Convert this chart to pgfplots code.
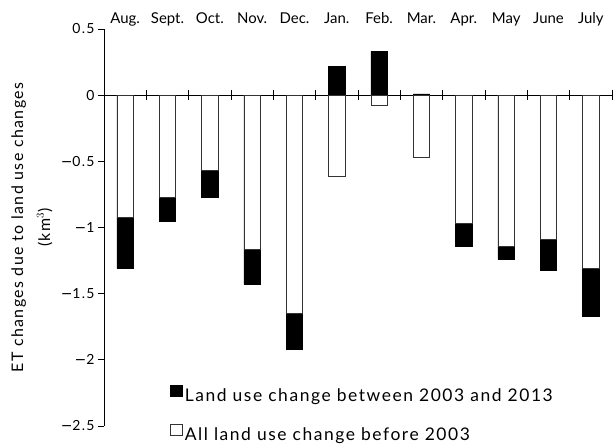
\documentclass[border=0pt]{standalone}
\usepackage{pgfplots}
\pgfplotsset{compat=1.18}
\usepackage{fontspec}
\setmainfont{Lato}
\newfontfamily\spaced{Lato}[LetterSpace=9]
\newfontfamily\dejavu{DejaVu Sans}
\newcommand{\mn}{{\dejavu −}}
\begin{document}
\begin{tikzpicture}
\begin{axis}[
  scale only axis, width=508bp, height=397bp,
  xmin=0.5, xmax=12.5, ymin=-2.5, ymax=0.5,
  axis x line=middle, axis y line=left,
  axis line style={-, black, line width=0.8pt},
  hide obscured x ticks=false, hide obscured y ticks=false,
  xtick={1,...,12},
  xticklabels={Aug., Sept., Oct., Nov., Dec., Jan., Feb., Mar., Apr., May, June, July},
  x tick label style={anchor=base, yshift=75bp, font=\fontsize{15}{18}\selectfont},
  major x tick style={draw=none},
  minor xtick={0.5,1.5,...,12.5},
  minor x tick style={black, line width=0.8pt},
  xtick align=center, minor tick length=10bp,
  ytick={-2.5,-2,-1.5,-1,-0.5,0,0.5},
  yticklabels={\mn2.5,\mn2,\mn1.5,\mn1,\mn0.5,0,0.5},
  ytick align=outside, major tick length=6bp,
  y tick style={black, line width=0.8pt},
  y tick label style={font=\spaced\fontsize{14}{16}\selectfont},
  ylabel={ET changes due to land use changes\\(km$^{3}$)},
  ylabel style={align=center, font=\spaced\fontsize{16}{27}\selectfont,
    at={(axis description cs:-0.142,0.5)}, anchor=center},
  legend style={draw=none, fill=none, at={(0.130,0.105)}, anchor=north west,
    font=\spaced\fontsize{17.5}{20}\selectfont, row sep=19bp, inner sep=0pt},
  legend cell align=left,
]
\addplot[ybar, bar width=0.39, bar shift=0, fill=black, draw=black, line width=0.6pt,
  legend image code/.code={\draw[fill=black,draw=black] (0bp,-0.5bp) rectangle (12bp,11bp);}]
  coordinates {(1,-1.31) (2,-0.95) (3,-0.77) (4,-1.43) (5,-1.92) (6,0.22) (7,0.33) (8,0.01) (9,-1.14) (10,-1.24) (11,-1.32) (12,-1.67)};
\addlegendentry{Land use change between 2003 and 2013}
\addplot[ybar, bar width=0.39, bar shift=0, fill=white, draw=black!80, line width=0.6pt,
  legend image code/.code={\draw[fill=white,draw=black!80,line width=0.5pt] (0bp,-0.5bp) rectangle (12bp,11bp);}]
  coordinates {(1,-0.92) (2,-0.77) (3,-0.57) (4,-1.165) (5,-1.65) (6,-0.61) (7,-0.08) (8,-0.47) (9,-0.97) (10,-1.14) (11,-1.09) (12,-1.31)};
\addlegendentry{All land use change before 2003}
\end{axis}
\path (current axis.south west) ++(-104bp,-17bp) (current axis.north east) ++(3bp,29bp);
\end{tikzpicture}
\end{document}
